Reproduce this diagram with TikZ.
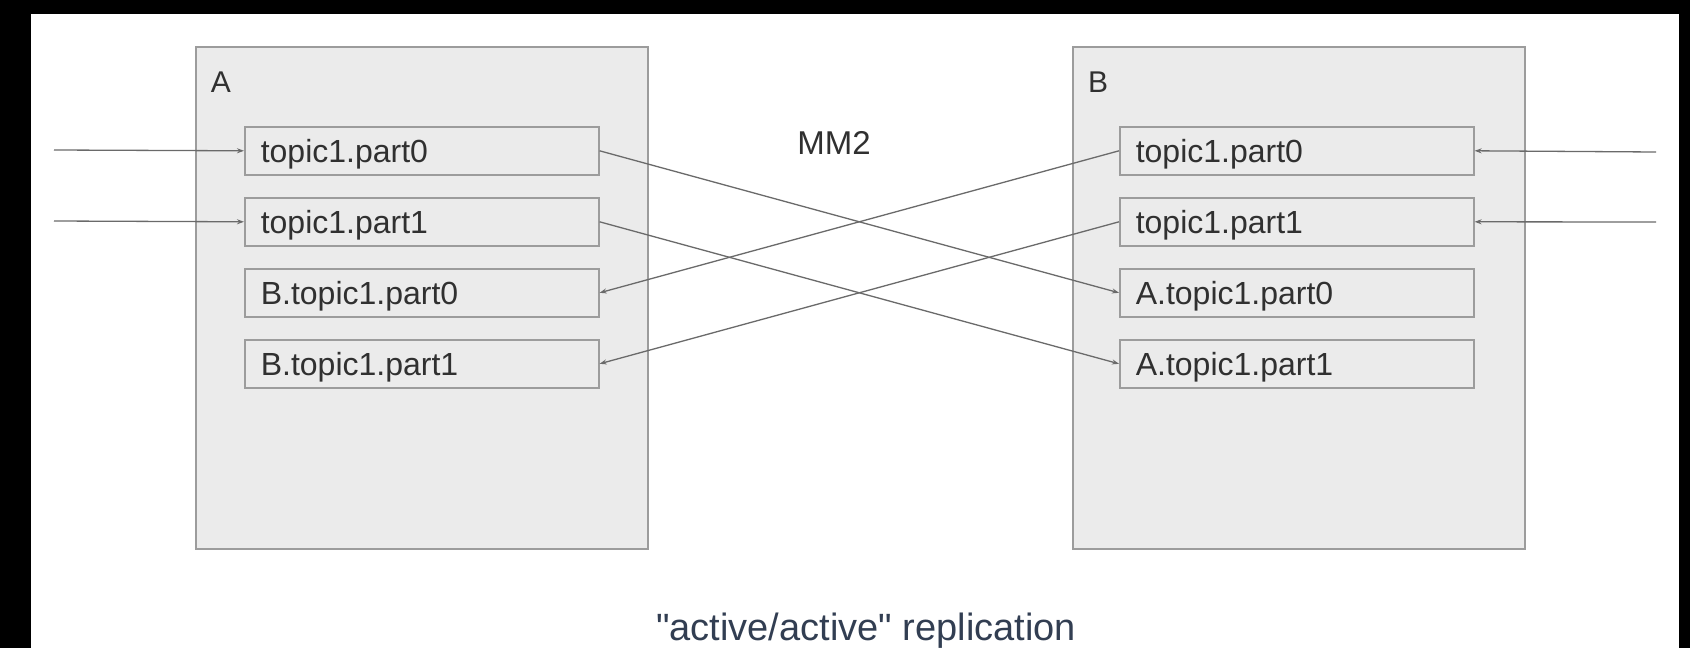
\documentclass[tikz,border=0pt]{standalone}
\usepackage{fontspec}
\setmainfont{Liberation Sans}
\newfontfamily\capfont{Liberation Sans}
\usetikzlibrary{arrows.meta}
\definecolor{panel}{HTML}{EBEBEB}
\definecolor{edge}{HTML}{9C9C9C}
\definecolor{ink}{HTML}{303030}
\definecolor{wire}{HTML}{6A6A6A}
\definecolor{captionink}{HTML}{323E52}
\begin{document}
\begin{tikzpicture}[x=1pt,y=-1pt,
  cluster/.style={draw=edge, fill=panel, line width=1.6pt, minimum width=452pt,
    minimum height=502pt, inner sep=0pt, anchor=north west},
  part/.style={draw=edge, fill=panel, line width=1.6pt, minimum height=48pt,
    text height=36pt, text depth=12pt,
    text width=322pt, inner xsep=16pt, inner ysep=0pt, align=left, text=ink,
    font=\fontsize{32}{38}\selectfont, anchor=north west},
  tag/.style={text=ink, inner sep=0pt, anchor=base},
  feed/.style={draw=wire, line width=1.3pt, -{Stealth[length=7pt,width=5pt]}},
]
\useasboundingbox (0,0) rectangle (1690,648);
% frame and canvas
\fill[black] (0,0) rectangle (1690,648);
\fill[white] (31,14) rectangle (1679,648);

% clusters
\node[cluster] (A) at (195,46) {};
\node[cluster] (B) at (1072,46) {};
\node[tag, font=\fontsize{30}{36}\selectfont] (Alabel) at (221,92) {A};
\node[tag, font=\fontsize{30}{36}\selectfont] (Blabel) at (1098,92) {B};
\node[tag, font=\fontsize{33}{40}\selectfont] (mm) at (834,154) {MM2};

% partitions of cluster A
\node[part] (a0) at (244,126) {topic1.part0};
\node[part] (a1) at (244,197) {topic1.part1};
\node[part] (a2) at (244,268) {B.topic1.part0};
\node[part] (a3) at (244,339) {B.topic1.part1};

% partitions of cluster B
\node[part] (b0) at (1119,126) {topic1.part0};
\node[part] (b1) at (1119,197) {topic1.part1};
\node[part] (b2) at (1119,268) {A.topic1.part0};
\node[part] (b3) at (1119,339) {A.topic1.part1};

% producers
\coordinate (inA0) at (54,150);
\coordinate (inA1) at (54,221);
\coordinate (inB0) at (1656,152);
\coordinate (inB1) at (1656,222);
\draw[feed] (inA0) -- (a0.west);
\draw[feed] (inA1) -- (a1.west);
\draw[feed] (inB0) -- (b0.east);
\draw[feed] (inB1) -- (b1.east);

% mirroring
\draw[feed] (a0.east) -- (b2.west);
\draw[feed] (a1.east) -- (b3.west);
\draw[feed] (b0.west) -- (a2.east);
\draw[feed] (b1.west) -- (a3.east);

% caption
\node[text=captionink, font=\capfont\fontsize{38}{44}\selectfont, inner sep=0pt, anchor=base] (cap) at (866,640) {"active/active" replication};
\end{tikzpicture}
\end{document}
